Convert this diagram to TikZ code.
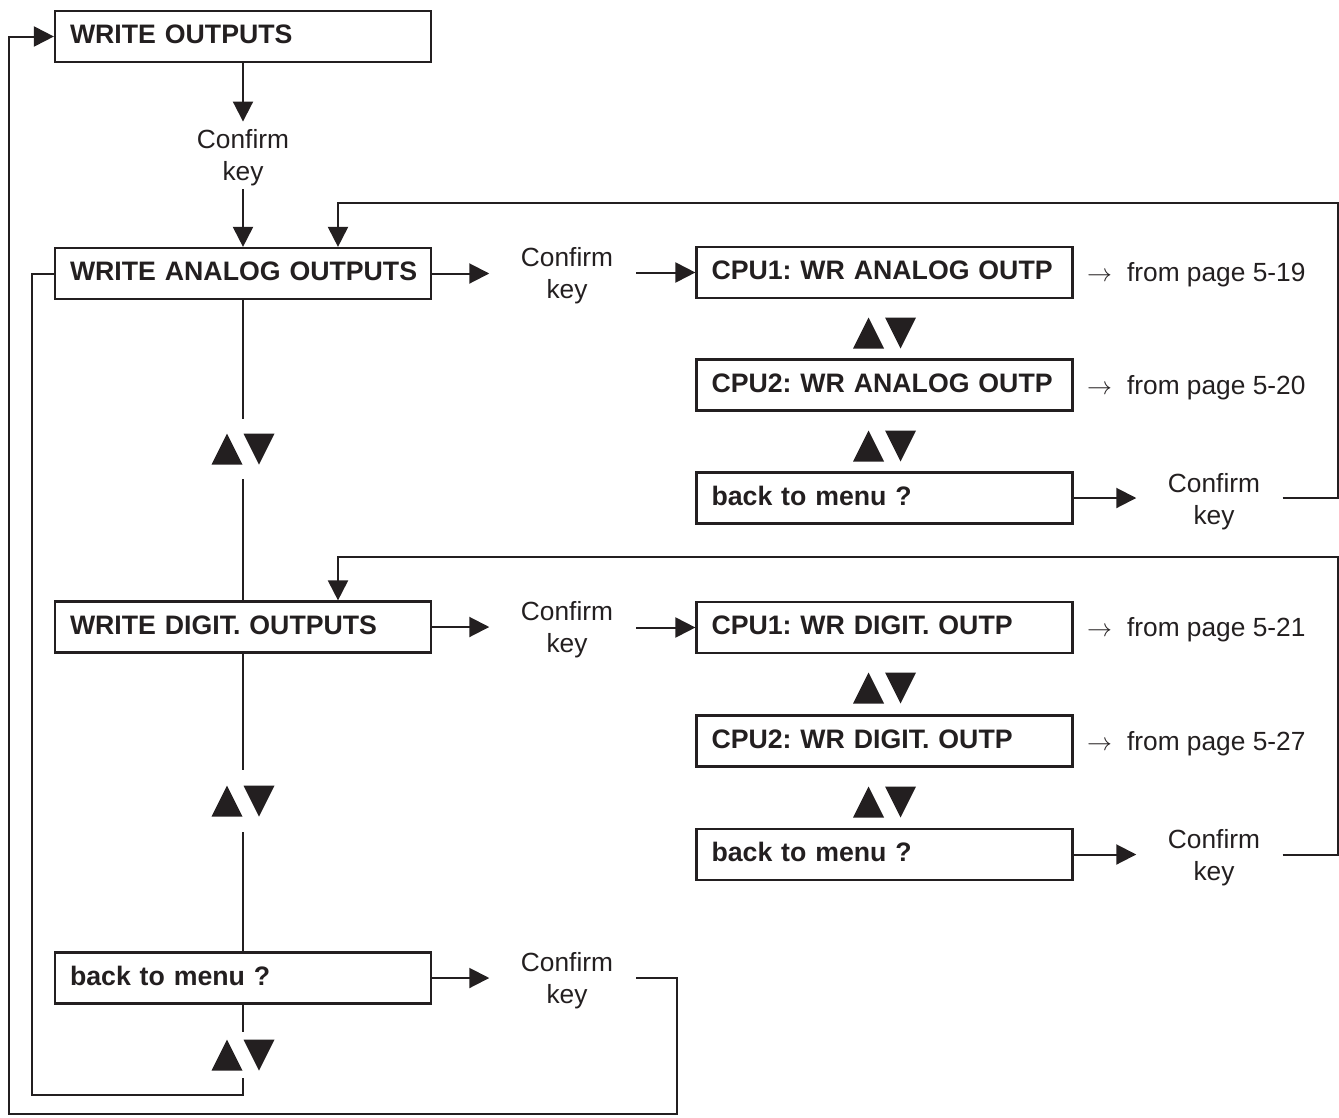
\documentclass[tikz,border=0pt]{standalone}
\usepackage{fontspec}
\setmainfont{Liberation Sans}
\usetikzlibrary{arrows.meta}
\definecolor{ink}{RGB}{35,31,32}
\frenchspacing
\newcommand\arw{{\fontsize{25}{25}\selectfont$\rightarrow$}\hspace{15pt}}
\newcommand\udtri[1]{%
  \fill[ink] ([shift={(-31.5pt,-15.5pt)}]#1.center) -- ++(31pt,0pt) -- ++(-15.5pt,31pt) -- cycle;
  \fill[ink] ([shift={(0.5pt,15.5pt)}]#1.center) -- ++(31pt,0pt) -- ++(-15.5pt,-31pt) -- cycle;}
\begin{document}
\begin{tikzpicture}[x=1pt,y=-1pt,
  box/.style={draw=ink, line width=2.2pt, minimum width=376pt, minimum height=51pt,
    text width=346pt, inner xsep=15pt, inner ysep=0pt, align=left,
    text height=19pt, text depth=5pt, font=\fontsize{26.7}{30}\selectfont\bfseries\frenchspacing, text=ink},
  ck/.style={inner sep=0pt, align=center, font=\fontsize{26.3}{32}\selectfont, text=ink},
  pg/.style={anchor=west, inner sep=0pt, font=\fontsize{26.3}{30}\selectfont, text=ink},
  ud/.style={inner sep=0pt, minimum width=64pt, minimum height=#1},
  ln/.style={draw=ink, line width=2pt},
  arr/.style={ln, -{Triangle[length=20pt,width=20pt]}}]
\useasboundingbox (0,0) rectangle (1339,1117);
% boxes
\node[box] (wo)  at (243,36.5)  {\mbox{WRITE OUTPUTS}};
\node[box] (wao) at (243,273.5) {\mbox{WRITE ANALOG OUTPUTS}};
\node[box] (wdo) at (243,627)   {\mbox{WRITE DIGIT. OUTPUTS}};
\node[box] (bm)  at (243,978)   {\mbox{back to menu ?}};
\node[box] (c1a) at (884.5,272.5) {\mbox{CPU1: WR ANALOG OUTP}};
\node[box] (c2a) at (884.5,385)   {\mbox{CPU2: WR ANALOG OUTP}};
\node[box] (bma) at (884.5,498)   {\mbox{back to menu ?}};
\node[box] (c1d) at (884.5,627.5) {\mbox{CPU1: WR DIGIT. OUTP}};
\node[box] (c2d) at (884.5,741)   {\mbox{CPU2: WR DIGIT. OUTP}};
\node[box] (bmd) at (884.5,854.5) {\mbox{back to menu ?}};
% confirm keys
\node[ck] (ck0)  at (243,158)  {Confirm\\key};
\node[ck] (cka)  at (567,276)  {Confirm\\key};
\node[ck] (ckaa) at (1214,502) {Confirm\\key};
\node[ck] (ckd)  at (567,630)  {Confirm\\key};
\node[ck] (ckdd) at (1214,858) {Confirm\\key};
\node[ck] (ckb)  at (567,981)  {Confirm\\key};
% page references
\node[pg] (p1) at (1087,275)   {\arw from page 5-19};
\node[pg] (p2) at (1087,387.5) {\arw from page 5-20};
\node[pg] (p3) at (1087,630)   {\arw from page 5-21};
\node[pg] (p4) at (1087,743.5) {\arw from page 5-27};
% up/down markers
\node[ud=60pt] (u1) at (243,449) {};
\node[ud=62pt] (u2) at (243,801) {};
\node[ud=46pt] (u3) at (243,1055) {};
\node[ud=32pt] (r1) at (884.5,333) {};
\node[ud=32pt] (r2) at (884.5,446) {};
\node[ud=32pt] (r3) at (884.5,688) {};
\node[ud=32pt] (r4) at (884.5,802) {};
\udtri{u1}\udtri{u2}\udtri{u3}\udtri{r1}\udtri{r2}\udtri{r3}\udtri{r4}
% coordinates
\coordinate (railA) at (1338,203);
\coordinate (railD) at (1338,557);
\coordinate (innerBL) at (32,1095);
\coordinate (outerBR) at (677,1114);
\coordinate (outerBL) at (9,1114);
\path (ckaa.east |- bma.east) ++(22.5pt,0pt) coordinate (aOut);
\path (ckdd.east |- bmd.east) ++(22.5pt,0pt) coordinate (dOut);
\path (ckb.east |- bm.east) ++(23pt,0pt) coordinate (bOut);
% connectors
\draw[arr, shorten >=8pt] (wo.south) -- (ck0.north);
\draw[arr, shorten <=3pt] (ck0.south) -- (wao.north);
\draw[arr, shorten >=31.5pt] (wao.east) -- (wao.east -| cka.west);
\draw[arr, shorten <=23pt] (c1a.west -| cka.east) -- (c1a.west);
\draw[arr, shorten >=31.5pt] (wdo.east) -- (wdo.east -| ckd.west);
\draw[arr, shorten <=23pt] (c1d.west -| ckd.east) -- (c1d.west);
\draw[arr, shorten >=31.5pt] (bm.east) -- (bm.east -| ckb.west);
\draw[arr, shorten >=31.5pt] (bma.east) -- (bma.east -| ckaa.west);
\draw[arr, shorten >=31.5pt] (bmd.east) -- (bmd.east -| ckdd.west);
\draw[arr] (aOut) -| (railA) -| ([xshift=95pt]wao.north);
\draw[arr] (dOut) -| (railD) -| ([xshift=95pt]wdo.north);
\draw[ln] (wao.south) -- (u1.north);
\draw[ln] (u1.south) -- (wdo.north);
\draw[ln] (wdo.south) -- (u2.north);
\draw[ln] (u2.south) -- (bm.north);
\draw[ln] (bm.south) -- (u3.north);
\draw[ln] (wao.west) -| (innerBL) -| (u3.south);
\draw[arr] (bOut) -| (outerBR) -- (outerBL) |- (wo.west);
\end{tikzpicture}
\end{document}
